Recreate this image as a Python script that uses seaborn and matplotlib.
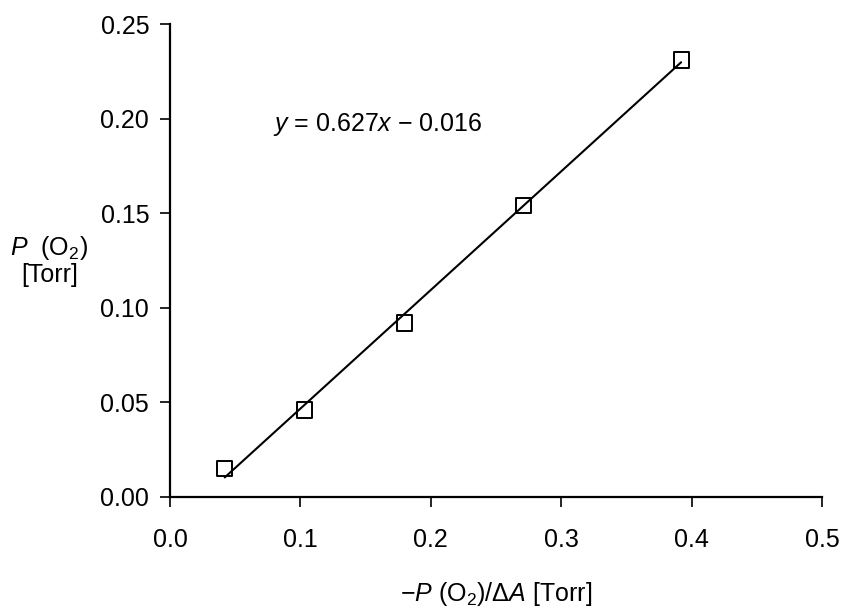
import numpy as np
import pandas as pd
import matplotlib
matplotlib.use("Agg")
import matplotlib.pyplot as plt
import seaborn as sns

# datos
x_vals = [0.042, 0.103, 0.180, 0.271, 0.392]
y_vals = [0.015, 0.046, 0.092, 0.154, 0.231]
slope = 0.627
intercept = -0.016
x_ticks = [0.0, 0.1, 0.2, 0.3, 0.4, 0.5]
y_ticks = [0.00, 0.05, 0.10, 0.15, 0.20, 0.25]

sns.set_theme(style="ticks", rc={'text.color': 'black', 'axes.labelcolor': 'black',
                                 'xtick.color': 'black', 'ytick.color': 'black'})
plt.rcParams['font.family'] = ['Liberation Sans', 'DejaVu Sans']
plt.rcParams['mathtext.fontset'] = 'custom'
plt.rcParams['mathtext.rm'] = 'Liberation Sans'
plt.rcParams['mathtext.it'] = 'Liberation Sans:italic'

fs = 18

df = pd.DataFrame({'x': x_vals, 'y': y_vals})
fit = pd.DataFrame({'x': [min(x_vals), max(x_vals)]})
fit['y'] = slope * fit['x'] + intercept

fig = plt.figure(figsize=(8.44, 6.08), dpi=100)
ax = fig.add_axes([0.2014, 0.1826, 0.7725, 0.7779])

# recta de ajuste y puntos medidos
sns.lineplot(data=fit, x='x', y='y', color='black', linewidth=1.5, ax=ax)
sns.scatterplot(data=df, x='x', y='y', marker='s', s=120, facecolor='none',
                edgecolor='black', linewidth=1.4, ax=ax, zorder=3)

ax.set_xlim(0, 0.5)
ax.set_ylim(0, 0.25)
ax.set_xticks(x_ticks)
ax.set_yticks(y_ticks)
ax.set_xticklabels([f"{v:.1f}" for v in x_ticks], fontsize=fs)
ax.set_yticklabels([f"{v:.2f}" for v in y_ticks], fontsize=fs)
ax.tick_params(direction='out', length=7, width=1.2, colors='black', pad=8)
ax.tick_params(axis='x', pad=15)
for s in ['top', 'right']:
    ax.spines[s].set_visible(False)
for s in ['left', 'bottom']:
    ax.spines[s].set_color('black')
    ax.spines[s].set_linewidth(1.6)

ax.set_xlabel(r"$-P$ (O$_2$)/$\Delta A$ [Torr]", fontsize=fs, color='black')
ax.xaxis.set_label_coords(0.5, -0.175)
ax.set_ylabel("$P$  (O$_2$)\n[Torr]", fontsize=fs, rotation=0, ha='center',
              va='center', linespacing=1.05, color='black')
ax.yaxis.set_label_coords(-0.185, 0.5)

ax.text(0.079, 0.197, r"$y$ = 0.627$x$ $-$ 0.016", fontsize=fs, va='center',
        color='black')

fig.savefig("out.png", dpi=100)
